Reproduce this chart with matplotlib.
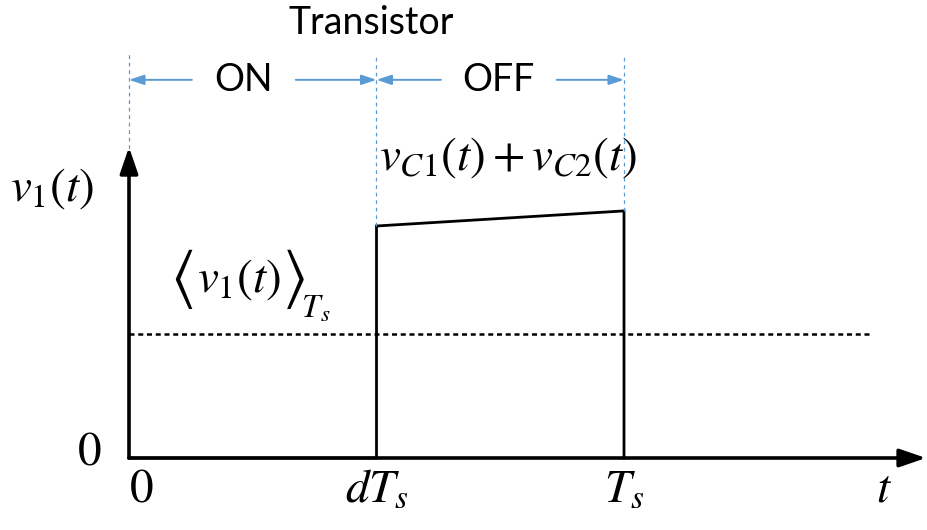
import matplotlib.pyplot as plt

plt.rcParams["mathtext.fontset"] = "stix"
plt.rcParams["font.family"] = ["Liberation Serif", "DejaVu Serif"]

# switching instants, normalised to one period Ts
t_edges = [0.0, 0.5, 1.0]
t_labels = [r"$0$", r"$dT_s$", r"$T_s$"]

# v1(t) over one period: zero while ON, vC1+vC2 while OFF
v1_t = [0.0, 0.5, 0.5, 1.0, 1.0]
v1_v = [0.0, 0.0, 1.0, 1.065, 0.0]
v1_avg = 0.535

phases = ["ON", "OFF"]
phase_mid = [0.232, 0.747]
phase_gap = [0.105, 0.117]

BLUE = "#5B9BD5"
MATH = 34

fig = plt.figure(figsize=(9.28, 5.30), dpi=100)
ax = fig.add_axes([0, 0, 1, 1])
ax.set_xlim(-129 / 495, 799 / 495)
ax.set_ylim(-72 / 232, 458 / 232)
ax.axis("off")

# axes with arrow heads
ax.annotate("", xy=(1.61, 0), xytext=(0, 0),
            arrowprops=dict(arrowstyle="-|>,head_length=1.6,head_width=0.55",
                            lw=2.6, color="black", shrinkA=0, shrinkB=0))
ax.annotate("", xy=(0, 1.34), xytext=(0, 0),
            arrowprops=dict(arrowstyle="-|>,head_length=1.6,head_width=0.55",
                            lw=2.6, color="black", shrinkA=0, shrinkB=0))

# waveform and its average
ax.plot(v1_t, v1_v, color="black", lw=2.0, solid_joinstyle="miter")
ax.plot([0, 1.5], [v1_avg, v1_avg], color="black", lw=1.8, ls=(0, (2.0, 1.5)))

# switching-instant guides
guide_top = 1.74
guide_bottom = [1.30, v1_v[2], v1_v[3]]
for t, yb in zip(t_edges, guide_bottom):
    ax.plot([t, t], [yb, guide_top], color=BLUE, lw=0.9, ls=(0, (3, 3)))

# ON / OFF interval arrows
arrow_y = 1.63
for i, name in enumerate(phases):
    t0, t1 = t_edges[i], t_edges[i + 1]
    mid, gap = phase_mid[i], phase_gap[i]
    for a, b in [(mid - gap, t0), (mid + gap, t1)]:
        ax.annotate("", xy=(b, arrow_y), xytext=(a, arrow_y),
                    arrowprops=dict(arrowstyle="-|>,head_length=0.9,head_width=0.3",
                                    lw=1.4, color=BLUE, shrinkA=0, shrinkB=0))
    ax.text(mid, arrow_y, name, ha="center", va="center", fontsize=27,
            family="Lato")
ax.text(0.49, 1.875, "Transistor", ha="center", va="center", fontsize=27,
        family="Lato")

# tick labels
for t, lab in zip(t_edges, t_labels):
    ax.text(t + (0.025 if t == 0 else 0.0), -0.14, lab, ha="center",
            va="center", fontsize=MATH)
ax.text(1.525, -0.14, r"$t$", ha="center", va="center", fontsize=MATH)
ax.text(-0.08, 0.02, r"$0$", ha="center", va="center", fontsize=MATH)

# signal labels
ax.text(-0.155, 1.16, r"$v_1(t)$", ha="center", va="center", fontsize=MATH)
avg_y = 0.77
ax.text(0.107, avg_y, r"$\langle$", ha="center", va="center", fontsize=46)
ax.text(0.222, avg_y, r"$v_1(t)$", ha="center", va="center", fontsize=MATH)
ax.text(0.332, avg_y, r"$\rangle$", ha="center", va="center", fontsize=46)
ax.text(0.348, avg_y - 0.1, r"$_{T_s}$", ha="left", va="center",
        fontsize=MATH)
ax.text(0.765, 1.295, r"$v_{C1}(t)+v_{C2}(t)$", ha="center", va="center",
        fontsize=MATH)

fig.savefig("out.png", dpi=100)
